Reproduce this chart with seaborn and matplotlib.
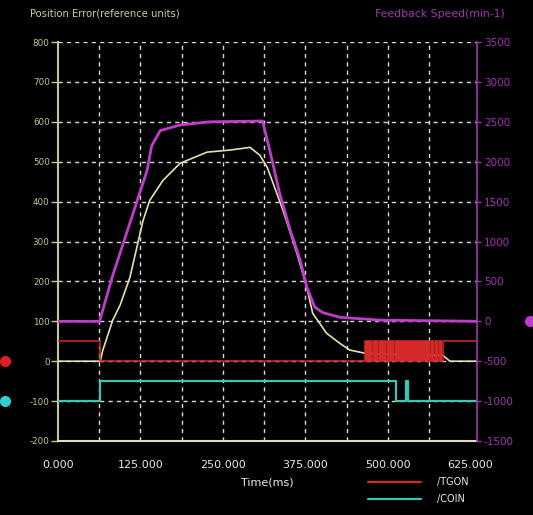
import numpy as np
import pandas as pd
import seaborn as sns
import matplotlib
matplotlib.use("Agg")
import matplotlib.pyplot as plt
from matplotlib.transforms import blended_transform_factory

# ---- trace data (time in ms) ----
speed_t = [0, 63, 82, 135, 142, 155, 185, 230, 310, 321, 336, 352, 367, 377,
           389, 401, 427, 488, 635]
speed_rpm = [0, 0, 550, 1890, 2200, 2390, 2460, 2500, 2510, 2140, 1600, 1140,
             770, 430, 180, 110, 50, 15, 0]

poserr_t = [0, 64, 68, 83, 94, 109, 129, 139, 159, 185, 226, 260, 291, 306,
            317, 326, 341, 362, 377, 386, 407, 427, 442, 465, 500, 540, 583,
            594, 635]
poserr = [0, 0, 28, 103, 140, 210, 353, 403, 453, 496, 524, 529, 536, 516,
          486, 446, 378, 271, 185, 120, 70, 45, 28, 20, 17, 15, 15, 0, 0]

# /TGON digital signal: toggle times, state alternates starting high
tgon_t = [0, 64, 466, 467.5, 469, 470, 472, 473.5, 475, 476, 478.5, 479.5,
          481, 482.5, 484, 485, 487.5, 488.5, 490, 491, 493, 494.5, 496, 497,
          499.5, 500.5, 502, 503, 505, 506.5, 508, 509, 511.5, 512.5, 514,
          515, 517, 518.5, 520, 521, 523.5, 524.5, 526, 527, 529, 530.5, 532,
          533, 535.5, 536.5, 538, 539, 541, 542.5, 544, 545, 547.5, 548.5,
          550, 551, 553, 554.5, 556, 557, 559.5, 560.5, 562, 563, 565, 566.5,
          568, 569, 571.5, 572.5, 574, 575, 577, 578.5, 580, 581, 583]
tgon_state = [(i + 1) % 2 for i in range(len(tgon_t))]
tgon_t = tgon_t + [635]
tgon_state = tgon_state + [tgon_state[-1]]

# /COIN digital signal
coin_t = [0, 64, 513, 527, 530, 635]
coin_state = [0, 1, 0, 1, 0, 0]

left_ticks = [800, 700, 600, 500, 400, 300, 200, 100, 0, -100, -200]
right_ticks = [3500, 3000, 2500, 2000, 1500, 1000, 500, 0, -500, -1000, -1500]
time_ticks = [0, 125, 250, 375, 500, 625]

# ---- colours ----
BG = "black"
C_POS = "#e2e2aa"
C_SPD = "#c03ccc"
C_TGON = "#d42a2a"
C_COIN = "#3cc4b8"
C_LEFT = "#c4c88c"
C_RIGHT = "#a432b4"
C_GRID = "#d8d8d8"

sns.set_theme(style="dark")
plt.rcParams["font.family"] = ["DejaVu Sans"]

fig = plt.figure(figsize=(5.33, 5.15), dpi=100, facecolor=BG)
ax = fig.add_axes([58 / 533, 1 - 441 / 515, 419 / 533, 399 / 515])
ax.set_facecolor(BG)
ax2 = ax.twinx()

# digital channels drawn with offsets on the position-error scale
df_tgon = pd.DataFrame({"t": tgon_t, "v": [s * 50 for s in tgon_state]})
df_coin = pd.DataFrame({"t": coin_t, "v": [-100 + s * 50 for s in coin_state]})
df_pos = pd.DataFrame({"t": poserr_t, "v": poserr})
df_spd = pd.DataFrame({"t": speed_t, "v": speed_rpm})

# dashed grid
for y in left_ticks:
    ax.axhline(y, color=C_GRID, lw=1.0, ls=(0, (3, 3)), zorder=1)
for x in np.arange(62.5, 625, 62.5):
    ax.axvline(x, color=C_GRID, lw=1.0, ls=(0, (3, 3)), zorder=1)

sns.lineplot(data=df_pos, x="t", y="v", ax=ax, color=C_POS, lw=1.2,
             estimator=None, zorder=3)
l_tgon = sns.lineplot(data=df_tgon, x="t", y="v", ax=ax, color=C_TGON, lw=1.1,
                      estimator=None, drawstyle="steps-post", zorder=4).lines[-1]
l_coin = sns.lineplot(data=df_coin, x="t", y="v", ax=ax, color=C_COIN, lw=1.6,
                      estimator=None, drawstyle="steps-post", zorder=4).lines[-1]
sns.lineplot(data=df_spd, x="t", y="v", ax=ax2, color=C_SPD, lw=2.0,
             estimator=None, zorder=5)

ax.set_xlim(0, 635)
ax.set_ylim(-200, 800)
ax2.set_ylim(-1500, 3500)
ax2.set_xlim(0, 635)

ax.set_yticks(left_ticks)
ax.set_yticklabels([str(v) for v in left_ticks])
ax2.set_yticks(right_ticks)
ax2.set_yticklabels([str(v) for v in right_ticks])
ax.set_xticks(time_ticks)
ax.set_xticklabels([f"{v:.3f}" for v in time_ticks])

ax.tick_params(axis="y", colors=C_LEFT, labelsize=6.3, length=5, width=1,
               pad=1, left=True, direction="out")
ax2.tick_params(axis="y", colors=C_RIGHT, labelsize=7.5, length=3, width=1,
                pad=2, right=True, direction="out")
ax.tick_params(axis="x", colors="#e8e8e8", labelsize=8, length=0, pad=14)

ax.set_xlabel("Time(ms)", color="#ececec", fontsize=8, labelpad=5)
ax.set_ylabel("")
ax2.set_ylabel("")
ax.grid(False)
ax2.grid(False)

for a in (ax, ax2):
    a.spines["top"].set_visible(False)
    a.patch.set_alpha(0)
ax.spines["left"].set_visible(True)
ax.spines["left"].set_color(C_LEFT)
ax.spines["left"].set_linewidth(1.5)
ax.spines["bottom"].set_visible(True)
ax.spines["bottom"].set_color("#dcdcc8")
ax.spines["bottom"].set_linewidth(1.5)
ax.spines["right"].set_visible(False)
ax2.spines["left"].set_visible(False)
ax2.spines["bottom"].set_visible(False)
ax2.spines["right"].set_visible(True)
ax2.spines["right"].set_color(C_RIGHT)
ax2.spines["right"].set_linewidth(1.2)

# channel markers at the figure edges
tr = blended_transform_factory(ax.transAxes, ax.transData)
ax.plot([-0.1265], [0], transform=tr, marker="o", ms=7, color="#e02020",
        clip_on=False, lw=0)
ax.plot([-0.1265], [-100], transform=tr, marker="o", ms=7, color="#30d0d0",
        clip_on=False, lw=0)
ax.plot([1.1265], [100], transform=tr, marker="o", ms=7, color=C_SPD,
        clip_on=False, lw=0)

# axis titles
fig.text(30 / 533, 1 - 14 / 515, "Position Error(reference units)",
         color="#c8d090", fontsize=7.2, va="center", ha="left")
fig.text(505 / 533, 1 - 14 / 515, "Feedback Speed(min-1)",
         color=C_RIGHT, fontsize=7.8, va="center", ha="right")

leg = ax.legend([l_tgon, l_coin], ["/TGON", "/COIN"], loc="upper left",
                bbox_to_anchor=(368 / 533, 1 - 477 / 515),
                bbox_transform=fig.transFigure, frameon=False, fontsize=7,
                handlelength=5.4, handletextpad=1.7, labelspacing=0.75,
                borderpad=0, borderaxespad=0)
for t in leg.get_texts():
    t.set_color("#e8e8e8")
for h in leg.legend_handles:
    h.set_linewidth(1.6)

fig.savefig("out.png", dpi=100, facecolor=BG)
